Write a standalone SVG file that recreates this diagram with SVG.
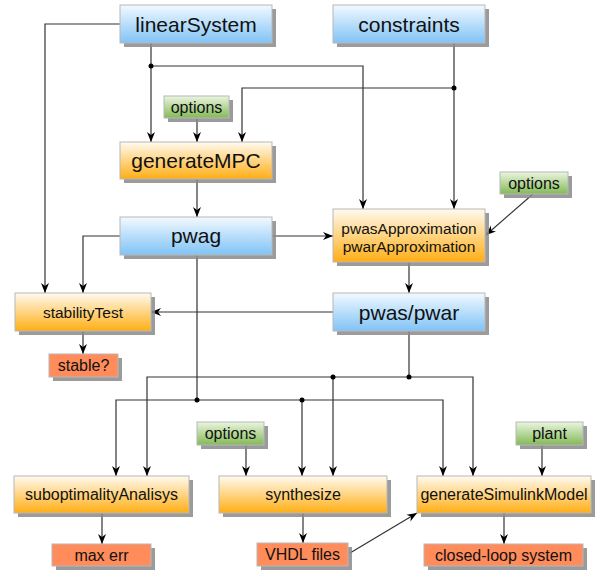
<svg xmlns="http://www.w3.org/2000/svg" width="597" height="572" viewBox="0 0 597 572">
<style>
.box{stroke:#b8b8b8;stroke-width:1}
.sh{fill:#8a8a8a;opacity:0.85}
.big{font-family:"Liberation Sans",Arial,sans-serif;font-size:21px;fill:#111;text-anchor:middle}
.sm{font-family:"Liberation Sans",Arial,sans-serif;font-size:15.5px;fill:#111;text-anchor:middle}
.md{font-family:"Liberation Sans",Arial,sans-serif;font-size:16px;fill:#111;text-anchor:middle}
.ln{fill:none;stroke:#333;stroke-width:1.2}
.dot{fill:#000}
</style>
<defs>
<linearGradient id="gb" x1="0" y1="0" x2="0" y2="1"><stop offset="0" stop-color="#f2f9ff"/><stop offset="1" stop-color="#80c3f6"/></linearGradient>
<linearGradient id="go" x1="0" y1="0" x2="0" y2="1"><stop offset="0" stop-color="#fffaf0"/><stop offset="1" stop-color="#ffae14"/></linearGradient>
<linearGradient id="gg" x1="0" y1="0" x2="0" y2="1"><stop offset="0" stop-color="#eaf5df"/><stop offset="1" stop-color="#82b955"/></linearGradient>
<marker id="ar" viewBox="0 0 10 10" refX="10" refY="5" markerWidth="10" markerHeight="10" markerUnits="userSpaceOnUse" orient="auto"><path d="M0,1 L10,5 L0,9 L3,5 Z" fill="#000"/></marker>
</defs>
<g id="connectors">
<path class="ln" d="M120,24 H45 V293" marker-end="url(#ar)"/>
<path class="ln" d="M151,43 V142" marker-end="url(#ar)"/>
<path class="ln" d="M151,66 H363 V209" marker-end="url(#ar)"/>
<path class="ln" d="M454,43 V209" marker-end="url(#ar)"/>
<path class="ln" d="M454,88 H242 V142" marker-end="url(#ar)"/>
<path class="ln" d="M197,118 V142" marker-end="url(#ar)"/>
<path class="ln" d="M197,179 V217" marker-end="url(#ar)"/>
<path class="ln" d="M120,236 H83 V293" marker-end="url(#ar)"/>
<path class="ln" d="M272,236 H333" marker-end="url(#ar)"/>
<path class="ln" d="M533,194 L486,235" marker-end="url(#ar)"/>
<path class="ln" d="M409,262 V293" marker-end="url(#ar)"/>
<path class="ln" d="M333,312 H151" marker-end="url(#ar)"/>
<path class="ln" d="M83,331 V354" marker-end="url(#ar)"/>
<path class="ln" d="M409,331 V377 H147 V476" marker-end="url(#ar)"/>
<path class="ln" d="M409,377 H473 V476" marker-end="url(#ar)"/>
<path class="ln" d="M333,377 V476" marker-end="url(#ar)"/>
<path class="ln" d="M197,255 V400 H116 V476" marker-end="url(#ar)"/>
<path class="ln" d="M197,400 H443 V476" marker-end="url(#ar)"/>
<path class="ln" d="M302,400 V476" marker-end="url(#ar)"/>
<path class="ln" d="M246,445 V476" marker-end="url(#ar)"/>
<path class="ln" d="M542,445 V476" marker-end="url(#ar)"/>
<path class="ln" d="M102,513 V544" marker-end="url(#ar)"/>
<path class="ln" d="M303,513 V543" marker-end="url(#ar)"/>
<path class="ln" d="M350,553 L417,513" marker-end="url(#ar)"/>
<path class="ln" d="M504,513 V544" marker-end="url(#ar)"/>
<circle class="dot" cx="151" cy="66" r="2.5"/>
<circle class="dot" cx="454" cy="88" r="2.5"/>
<circle class="dot" cx="409" cy="377" r="2.5"/>
<circle class="dot" cx="333" cy="377" r="2.5"/>
<circle class="dot" cx="197" cy="400" r="2.5"/>
<circle class="dot" cx="302" cy="400" r="2.5"/>
</g>
<g id="linearSystem"><rect class="sh" x="124" y="9" width="152" height="38"/><rect class="box" x="120" y="5" width="152" height="38" fill="url(#gb)"/><text class="big" x="196" y="31.5">linearSystem</text></g>
<g id="constraints"><rect class="sh" x="337" y="9" width="152" height="38"/><rect class="box" x="333" y="5" width="152" height="38" fill="url(#gb)"/><text class="big" x="409" y="31.5">constraints</text></g>
<g id="options1"><rect class="sh" x="168" y="100" width="65" height="22"/><rect class="box" x="164" y="96" width="65" height="22" fill="url(#gg)"/><text class="md" x="196.5" y="112.5">options</text></g>
<g id="generateMPC"><rect class="sh" x="124" y="146" width="152" height="37"/><rect class="box" x="120" y="142" width="152" height="37" fill="url(#go)"/><text class="big" x="196" y="168">generateMPC</text></g>
<g id="pwag"><rect class="sh" x="124" y="221" width="152" height="38"/><rect class="box" x="120" y="217" width="152" height="38" fill="url(#gb)"/><text class="big" x="196" y="243">pwag</text></g>
<g id="options2"><rect class="sh" x="504" y="176" width="68" height="22"/><rect class="box" x="500" y="172" width="68" height="22" fill="url(#gg)"/><text class="md" x="534" y="188.5">options</text></g>
<g id="pwasApproximation"><rect class="sh" x="337" y="213" width="152" height="53"/><rect class="box" x="333" y="209" width="152" height="53" fill="url(#go)"/><text class="sm" x="409" y="233.5">pwasApproximation</text><text class="sm" x="409" y="251.5">pwarApproximation</text></g>
<g id="pwas_pwar"><rect class="sh" x="337" y="297" width="152" height="38"/><rect class="box" x="333" y="293" width="152" height="38" fill="url(#gb)"/><text class="big" x="409" y="319.5">pwas/pwar</text></g>
<g id="stabilityTest"><rect class="sh" x="19" y="297" width="136" height="38"/><rect class="box" x="15" y="293" width="136" height="38" fill="url(#go)"/><text class="sm" x="83" y="317.5">stabilityTest</text></g>
<g id="stable"><rect class="sh" x="53" y="358" width="69" height="23"/><rect class="box" x="49" y="354" width="69" height="23" fill="#ff8c5a"/><text class="md" x="83.5" y="371">stable?</text></g>
<g id="options3"><rect class="sh" x="201" y="426" width="67" height="23"/><rect class="box" x="197" y="422" width="67" height="23" fill="url(#gg)"/><text class="md" x="230.5" y="439">options</text></g>
<g id="plant"><rect class="sh" x="520" y="426" width="67" height="23"/><rect class="box" x="516" y="422" width="67" height="23" fill="url(#gg)"/><text class="md" x="549.5" y="439">plant</text></g>
<g id="suboptimalityAnalisys"><rect class="sh" x="18" y="480" width="175" height="37"/><rect class="box" x="14" y="476" width="175" height="37" fill="url(#go)"/><text class="md" x="101.5" y="500">suboptimalityAnalisys</text></g>
<g id="synthesize"><rect class="sh" x="223" y="480" width="168" height="37"/><rect class="box" x="219" y="476" width="168" height="37" fill="url(#go)"/><text class="md" x="303" y="500">synthesize</text></g>
<g id="generateSimulinkModel"><rect class="sh" x="421" y="480" width="174" height="37"/><rect class="box" x="417" y="476" width="174" height="37" fill="url(#go)"/><text class="md" x="504" y="500">generateSimulinkModel</text></g>
<g id="maxerr"><rect class="sh" x="56" y="548" width="99" height="22"/><rect class="box" x="52" y="544" width="99" height="22" fill="#ff8c5a"/><text class="md" x="101.5" y="560.5">max err</text></g>
<g id="vhdl"><rect class="sh" x="261" y="547" width="91" height="23"/><rect class="box" x="257" y="543" width="91" height="23" fill="#ff8c5a"/><text class="md" x="302.5" y="560">VHDL files</text></g>
<g id="closedloop"><rect class="sh" x="428" y="548" width="159" height="22"/><rect class="box" x="424" y="544" width="159" height="22" fill="#ff8c5a"/><text class="md" x="503.5" y="560.5">closed-loop system</text></g>
</svg>
